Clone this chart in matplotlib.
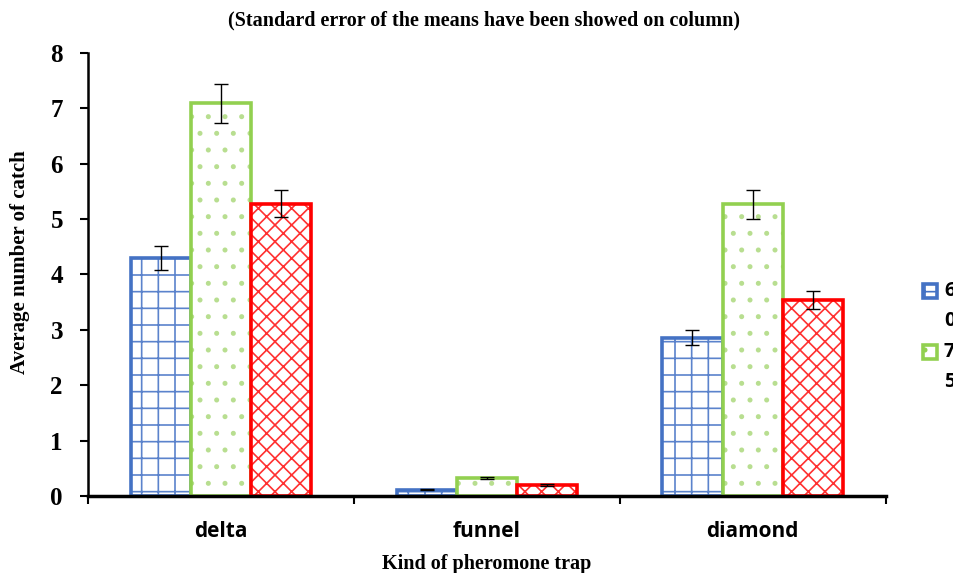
import numpy as np
import matplotlib.pyplot as plt
from matplotlib.patches import Rectangle

# Data
traps = ['delta', 'funnel', 'diamond']
series = ['60', '75', '90']
means = {
    '60': [4.30, 0.11, 2.86],
    '75': [7.09, 0.33, 5.27],
    '90': [5.28, 0.20, 3.54],
}
errors = {
    '60': [0.21, 0.01, 0.14],
    '75': [0.35, 0.02, 0.26],
    '90': [0.25, 0.02, 0.17],
}
colors = ['#4472C4', '#92D050', '#FF0000']
hatch_colors = ['#5b83cc', '#b8de90', '#ff3030']
hatches = ['+', '.', 'xx']

plt.rcParams['hatch.linewidth'] = 1.2

W, H = 954, 573
fig = plt.figure(figsize=(W / 100, H / 100), dpi=100)
ax = fig.add_axes([0.0922, 0.1344, 0.836, 0.7731])

x = np.arange(len(traps))
width = 0.226
for i, name in enumerate(series):
    pos = x + (i - 1) * width
    # hatch layer in a softer colour, then the solid outline on top
    ax.bar(pos, means[name], width, facecolor='white', edgecolor=hatch_colors[i],
           hatch=hatches[i], linewidth=0, zorder=2)
    ax.bar(pos, means[name], width, facecolor='none', edgecolor=colors[i],
           linewidth=2.6, zorder=2)
    ax.errorbar(pos, means[name], yerr=errors[name], fmt='none', ecolor='black',
                elinewidth=1, capsize=5, capthick=1, zorder=3)

ax.set_xlim(-0.5, 2.5)
ax.set_ylim(0, 8)
ax.set_yticks(range(0, 9))
ax.set_xticks([-0.5, 0.5, 1.5, 2.5])
ax.set_xticklabels([])
ax.set_xticks(x, minor=True)
ax.set_xticklabels(traps, minor=True, fontfamily='Open Sans', fontweight='bold', fontsize=15)
ax.tick_params(axis='x', which='minor', length=0, pad=18)
ax.tick_params(axis='x', which='major', length=6, width=1.5, direction='out')
ax.tick_params(axis='y', length=6, width=1.5, direction='out', pad=12)
for lbl in ax.get_yticklabels():
    lbl.set_fontfamily('Liberation Serif')
    lbl.set_fontweight('bold')
    lbl.set_fontsize(18)

for side in ['top', 'right']:
    ax.spines[side].set_visible(False)
ax.spines['left'].set_linewidth(1.8)
ax.spines['bottom'].set_linewidth(2.5)

serif = dict(fontfamily='Liberation Serif', fontweight='bold')
fig.text(0.507, 1 - 20 / H, '(Standard error of the means have been showed on column)',
         ha='center', va='center', fontsize=14.5, **serif)
fig.text(20 / W, 1 - 262 / H, 'Average number of catch', rotation=90, ha='center',
         va='center', fontsize=15, **serif)
fig.text(487 / W, 1 - 564 / H, 'Kind of pheromone trap', ha='center', va='center',
         fontsize=14.5, **serif)

# legend at the right edge, cropped as in the reference (two entries visible)
for i in range(2):
    yc = 291 + 61 * i
    fig.patches.append(Rectangle((923 / W, 1 - (yc + 7) / H), 14 / W, 14 / H,
                                 transform=fig.transFigure, facecolor='white',
                                 edgecolor=colors[i], hatch=hatches[i], linewidth=2.6))
    for k, ch in enumerate(series[i]):
        fig.text(944 / W, 1 - (yc + 30 * k) / H, ch, ha='left', va='center',
                 fontfamily='Open Sans', fontweight='bold', fontsize=14)

fig.savefig('out.png', dpi=100)
